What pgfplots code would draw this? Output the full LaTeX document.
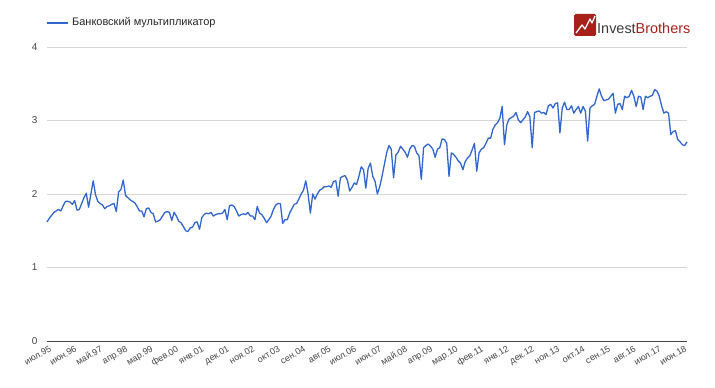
\documentclass[border=0pt]{standalone}
\usepackage{pgfplots}
\pgfplotsset{compat=1.18}
\usepackage{pgfplotstable}
\usepackage{fontspec}
\setmainfont{Liberation Sans}
\definecolor{gline}{HTML}{3366CC}
\definecolor{gridc}{HTML}{D6D6D6}
\definecolor{lbl}{HTML}{444444}
\definecolor{ibred}{HTML}{A8201A}
\definecolor{ibgray}{HTML}{3A3A3A}
\pgfplotstableread{
i v
0 1.62
1 1.67
2 1.71
3 1.75
4 1.77
5 1.79
6 1.77
7 1.84
8 1.90
9 1.90
10 1.89
11 1.86
12 1.91
13 1.78
14 1.79
15 1.87
16 1.95
17 2.01
18 1.82
19 2.00
20 2.18
21 1.99
22 1.90
23 1.87
24 1.85
25 1.80
26 1.83
27 1.84
28 1.86
29 1.87
30 1.76
31 2.03
32 2.06
33 2.19
34 1.98
35 1.95
36 1.92
37 1.90
38 1.88
39 1.83
40 1.77
41 1.77
42 1.69
43 1.80
44 1.81
45 1.75
46 1.73
47 1.62
48 1.63
49 1.65
50 1.70
51 1.75
52 1.76
53 1.75
54 1.64
55 1.75
56 1.70
57 1.63
58 1.61
59 1.56
60 1.50
61 1.49
62 1.54
63 1.55
64 1.61
65 1.62
66 1.52
67 1.68
68 1.72
69 1.74
70 1.73
71 1.75
72 1.70
73 1.72
74 1.73
75 1.73
76 1.74
77 1.79
78 1.65
79 1.84
80 1.85
81 1.83
82 1.77
83 1.70
84 1.72
85 1.73
86 1.72
87 1.75
88 1.70
89 1.70
90 1.65
91 1.83
92 1.74
93 1.72
94 1.67
95 1.61
96 1.65
97 1.70
98 1.79
99 1.85
100 1.87
101 1.87
102 1.60
103 1.65
104 1.65
105 1.74
106 1.80
107 1.86
108 1.87
109 1.93
110 2.00
111 2.05
112 2.18
113 2.00
114 1.74
115 2.00
116 1.93
117 2.00
118 2.05
119 2.07
120 2.10
121 2.10
122 2.11
123 2.09
124 2.17
125 2.18
126 1.97
127 2.22
128 2.24
129 2.25
130 2.19
131 2.04
132 2.09
133 2.15
134 2.13
135 2.24
136 2.37
137 2.33
138 2.08
139 2.35
140 2.42
141 2.24
142 2.17
143 2.00
144 2.10
145 2.24
146 2.40
147 2.56
148 2.66
149 2.61
150 2.22
151 2.53
152 2.57
153 2.65
154 2.61
155 2.57
156 2.50
157 2.61
158 2.66
159 2.65
160 2.56
161 2.52
162 2.20
163 2.63
164 2.66
165 2.68
166 2.65
167 2.61
168 2.50
169 2.61
170 2.63
171 2.75
172 2.74
173 2.69
174 2.24
175 2.56
176 2.54
177 2.50
178 2.45
179 2.42
180 2.33
181 2.44
182 2.49
183 2.52
184 2.60
185 2.69
186 2.31
187 2.56
188 2.61
189 2.63
190 2.69
191 2.76
192 2.76
193 2.88
194 2.94
195 2.97
196 3.03
197 3.19
198 2.67
199 2.94
200 3.02
201 3.04
202 3.06
203 3.11
204 3.01
205 2.97
206 3.01
207 3.05
208 3.12
209 3.05
210 2.63
211 3.11
212 3.12
213 3.13
214 3.10
215 3.11
216 3.08
217 3.20
218 3.22
219 3.17
220 3.23
221 3.24
222 2.83
223 3.17
224 3.25
225 3.15
226 3.15
227 3.20
228 3.10
229 3.15
230 3.19
231 3.10
232 3.19
233 3.13
234 2.72
235 3.17
236 3.20
237 3.22
238 3.33
239 3.43
240 3.33
241 3.27
242 3.28
243 3.29
244 3.33
245 3.37
246 3.10
247 3.22
248 3.23
249 3.15
250 3.33
251 3.31
252 3.33
253 3.41
254 3.33
255 3.19
256 3.33
257 3.32
258 3.15
259 3.33
260 3.31
261 3.33
262 3.34
263 3.42
264 3.40
265 3.33
266 3.20
267 3.10
268 3.12
269 3.10
270 2.81
271 2.85
272 2.86
273 2.74
274 2.71
275 2.67
276 2.66
277 2.71
}\mult
\begin{document}
\begin{tikzpicture}
\path[use as bounding box] (-47bp,-47bp) rectangle (668bp,341bp);
\begin{axis}[
  at={(0,0)}, anchor=south west,
  scale only axis, width=640bp, height=294bp,
  xmin=0, xmax=277, ymin=0, ymax=4,
  axis line style={draw=none},
  ytick={1,2,3,4},
  xmajorgrids=false, ymajorgrids=true,
  grid style={draw=gridc, line width=0.8bp},
  major tick length=0pt,
  xtick={0,11,...,275},
  xticklabels={июл.95,июн.96,май.97,апр.98,мар.99,фев.00,янв.01,дек.01,ноя.02,окт.03,сен.04,авг.05,июл.06,июн.07,май.08,апр.09,мар.10,фев.11,янв.12,дек.12,ноя.13,окт.14,сен.15,авг.16,июл.17,июн.18},
  x tick label style={rotate=30, anchor=north east, font=\fontsize{9}{10}\selectfont, text=lbl, inner sep=0.5bp, yshift=-4bp},
  extra y ticks={0}, extra y tick style={grid style={draw=lbl, line width=0.9bp}},
  y tick label style={font=\fontsize{10}{12}\selectfont, text=lbl, xshift=-6bp},
  /pgf/number format/assume math mode=true,
  clip=false,
]
\addplot[gline, line width=1.3bp, line join=round] table[x=i, y=v] {\mult};
\end{axis}
% legend
\draw[gline, line width=1.6bp] (0bp,318bp) -- (21bp,318bp);
\node[anchor=west, inner sep=0pt, font=\fontsize{11}{13}\selectfont, text=black!85] at (25bp,318.5bp) {Банковский мультипликатор};
% logo
\fill[ibred, rounded corners=1.5bp] (527bp,305bp) rectangle (549bp,327bp);
\draw[white, line width=1.3bp, line join=round] (529bp,308bp) -- (535bp,316bp) -- (538bp,312bp) -- (543bp,322bp) -- (545bp,318bp) -- (548bp,325bp);
\node[anchor=base west, inner sep=0pt, font=\fontsize{14.5}{17}\selectfont] at (550bp,307bp) {\textcolor{ibgray}{Invest}\textcolor{ibred}{Brothers}};
\end{tikzpicture}
\end{document}
